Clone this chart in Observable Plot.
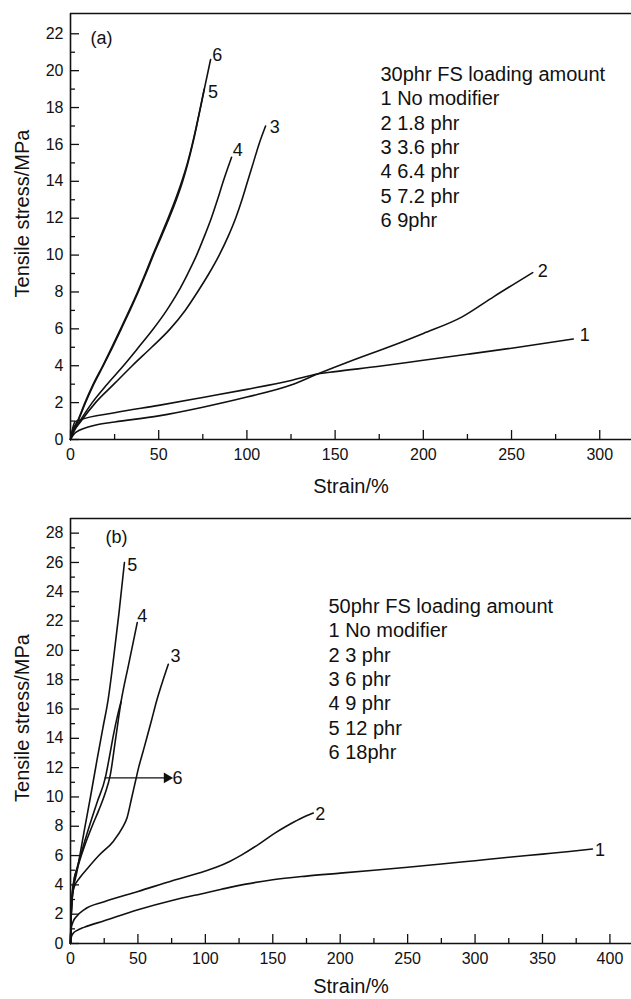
<!DOCTYPE html>
<html><head><meta charset="utf-8">
<script src="https://cdn.jsdelivr.net/npm/d3@7"></script>
<script src="https://cdn.jsdelivr.net/npm/@observablehq/plot@0.6"></script>
<style>
body{margin:0;background:#fff;}
#chart{width:631px;}
#chart svg{display:block;}
</style></head><body><div id="chart"></div>
<script>
// ---------- Panel (a): 30phr FS loading ----------
const legendA = ["30phr FS loading amount","1 No modifier","2 1.8 phr","3 3.6 phr","4 6.4 phr","5 7.2 phr","6 9phr"];
const a1 = [[0,0],[1,0.5],[2.5,0.95],[5,1.05],[25,1.45],[50,1.85],[75,2.28],[100,2.72],[125,3.2],[140,3.55],[150,3.68],[175,3.97],[200,4.3],[225,4.62],[250,4.95],[285,5.45]];
const a2 = [[0,0],[2,0.3],[5,0.5],[10,0.68],[15,0.8],[25,0.95],[50,1.28],[75,1.75],[100,2.3],[125,2.95],[140,3.55],[160,4.3],[180,5.0],[200,5.75],[222,6.65],[240,7.75],[262,9.05]];
const a3 = [[0,0],[2,0.45],[6,1],[14.2,2],[24.6,3],[35,4],[46,5],[56.5,6],[65,7],[72,8],[78.5,9],[84.3,10],[89.3,11],[93.6,12],[97.2,13],[100.4,14],[103.6,15],[106.8,16],[110.6,17]];
const a4 = [[0,0],[2,0.5],[5.3,1],[12.3,2],[20.8,3],[30,4],[38.6,5],[47,6],[54.5,7],[61,8],[66.5,9],[71.5,10],[75.8,11],[79.8,12],[83.3,13],[86.6,14],[91.3,15.3]];
const a5 = [[0,0],[1.5,0.5],[4.2,1],[8.5,2],[13.2,3],[18.6,4],[23.8,5],[28.8,6],[33.7,7],[38.4,8],[42.8,9],[47,10],[51.5,11],[55.9,12],[60,13],[63.6,14],[66.6,15],[69.2,16],[71.5,17],[73.6,18],[75.8,19.0]];
const a6 = [[0,0],[1.4,0.5],[4,1],[8.2,2],[12.9,3],[18.3,4],[23.4,5],[28.4,6],[33.3,7],[38,8],[42.4,9],[46.6,10],[51,11],[55.3,12],[59.4,13],[63.1,14],[66.3,15],[69,16],[71.4,17],[73.7,18],[76.3,19.2],[79.4,20.6]];
const labelsA = [["1",288.7,5.64],["2",264.8,9.12],["3",113,16.93],["4",92,15.7],["5",77.9,18.82],["6",80.3,20.83]];
const xTicksA = [0,50,100,150,200,250,300];
const xMinorA = [25,75,125,175,225,275];
const yTicksA = [0,2,4,6,8,10,12,14,16,18,20,22];
const yMinorA = [1,3,5,7,9,11,13,15,17,19,21];

// ---------- Panel (b): 50phr FS loading ----------
const legendB = ["50phr FS loading amount","1 No modifier","2 3 phr","3 6 phr","4 9 phr","5 12 phr","6 18phr"];
const b1 = [[0,0],[0.5,0.4],[2,0.7],[5,0.9],[10,1.1],[25,1.55],[50,2.3],[76,2.95],[100,3.45],[112,3.7],[130,4.05],[150,4.35],[175,4.6],[200,4.8],[225,5.0],[250,5.2],[275,5.42],[300,5.65],[325,5.88],[350,6.1],[370,6.28],[387,6.45]];
const b2 = [[0,0],[0.5,1.0],[2,1.5],[5,1.9],[10,2.3],[25,2.85],[50,3.55],[76,4.3],[100,4.95],[108,5.2],[118,5.6],[127,6.05],[140,6.8],[151,7.5],[160,8.0],[170,8.5],[180,8.9]];
const b3 = [[0,0],[0.4,1.5],[1,2.8],[2.5,3.8],[7,4.5],[12.4,5.1],[21,6],[32,7],[38.5,7.9],[42,8.6],[45.5,10],[48,11],[50.5,12],[53.5,13],[56.5,14],[60,15.2],[64,16.6],[68,17.8],[72.5,19.05]];
const b4 = [[0,0],[0.4,1.5],[1,3],[2.5,4.2],[6,5.4],[11,6.8],[16,8],[21,9.1],[25.5,10.2],[29.5,11.5],[33.5,14],[37.5,16.5],[43,19],[49.5,21.9]];
const b5 = [[0,0],[0.3,1.5],[0.8,2.5],[1.2,3],[5,5],[10,7.6],[15,10.1],[20,12.7],[24,14.7],[28,16.7],[32,19.5],[36,22.6],[40,26]];
const b6 = [[0,0],[0.4,1.5],[1,3],[2,4],[5,5.2],[10,6.8],[15,8.3],[20,9.7],[25.8,11.3],[29,12.8],[32,14.3],[35,15.6],[37.5,16.5]];
const labelsB = [["1",388.9,6.35],["2",181.4,8.8],["3",74.2,19.6],["4",49.5,22.3],["5",42,25.8],["6",75.7,11.3]];
const arrowB = [{x1:25.2, x2:71.5, y:11.3}];
const xTicksB = [0,50,100,150,200,250,300,350,400];
const xMinorB = [25,75,125,175,225,275,325,375];
const yTicksB = [0,2,4,6,8,10,12,14,16,18,20,22,24,26,28];
const yMinorB = [1,3,5,7,9,11,13,15,17,19,21,23,25,27];

const FONT = "'Liberation Sans', Arial, Helvetica, sans-serif";

function panel(o) {
  const rows = o.series.flatMap((pts, i) => pts.map(([x, y]) => ({id: i + 1, x, y})));
  const labels = o.labels.map(([t, x, y]) => ({t, x, y}));
  return Plot.plot({
    width: 631, height: o.height,
    marginLeft: 70, marginRight: 0, marginTop: 13, marginBottom: o.marginBottom,
    style: {fontFamily: FONT, fontSize: "16px", color: "#111", background: "white", overflow: "visible"},
    x: {domain: [0, o.xMax]},
    y: {domain: [0, o.yMax]},
    marks: [
      Plot.axisX({ticks: o.xTicks, tickSize: -9, tickPadding: 18, label: null, strokeWidth: 1.3, fontSize: 16}),
      Plot.axisX({ticks: o.xMinor, tickSize: -5, tickFormat: () => "", label: null, strokeWidth: 1.3}),
      Plot.axisY({ticks: o.yTicks, tickSize: -9, tickPadding: 16, label: null, strokeWidth: 1.3, fontSize: 16}),
      Plot.axisY({ticks: o.yMinor, tickSize: -5, tickFormat: () => "", label: null, strokeWidth: 1.3}),
      Plot.ruleX([0], {stroke: "#111", strokeWidth: 1.6}),
      Plot.ruleY([0, o.yMax], {stroke: "#111", strokeWidth: 1.6}),
      Plot.line(rows, {x: "x", y: "y", z: "id", curve: "monotone-x", stroke: "#111", strokeWidth: 1.6}),
      Plot.text(labels, {x: "x", y: "y", text: "t", textAnchor: "start", fontSize: 18, fill: "#111"}),
      Plot.text([o.legend.join("\n")], {frameAnchor: "top-left", dx: o.legendDx, dy: o.legendDy, textAnchor: "start", lineAnchor: "top", lineHeight: 1.22, fontSize: 20, fill: "#111"}),
      Plot.text([o.tag], {frameAnchor: "top-left", dx: o.tagDx, dy: o.tagDy, textAnchor: "start", lineAnchor: "top", fontSize: 18, fill: "#111"}),
      Plot.text(["Strain/%"], {frameAnchor: "bottom", dy: o.titleDy, textAnchor: "middle", lineAnchor: "middle", fontSize: 20, fill: "#111"}),
      Plot.text(["Tensile stress/MPa"], {frameAnchor: "left", dx: -48, dy: -13, rotate: -90, textAnchor: "middle", lineAnchor: "middle", fontSize: 20, fill: "#111"}),
      ...(o.extra || [])
    ]
  });
}

const chart = document.getElementById("chart");
chart.append(panel({
  series: [a1, a2, a3, a4, a5, a6], labels: labelsA, legend: legendA, tag: "(a)",
  xMax: 318, yMax: 23.1, xTicks: xTicksA, xMinor: xMinorA, yTicks: yTicksA, yMinor: yMinorA,
  height: 505, marginBottom: 66, legendDx: 310, legendDy: 50, tagDx: 20, tagDy: 18, titleDy: 47
}));
chart.append(panel({
  series: [b1, b2, b3, b4, b5, b6], labels: labelsB, legend: legendB, tag: "(b)",
  xMax: 416, yMax: 29, xTicks: xTicksB, xMinor: xMinorB, yTicks: yTicksB, yMinor: yMinorB,
  height: 494, marginBottom: 56, legendDx: 258, legendDy: 77, tagDx: 35, tagDy: 12, titleDy: 43,
  extra: [
    Plot.link(arrowB, {x1: "x1", x2: "x2", y1: "y", y2: "y", stroke: "#111", strokeWidth: 1.4}),
    Plot.dot(arrowB, {x: "x2", y: "y", symbol: "triangle", rotate: 90, r: 4, fill: "#111", stroke: null})
  ]
}));
</script>
</body></html>
